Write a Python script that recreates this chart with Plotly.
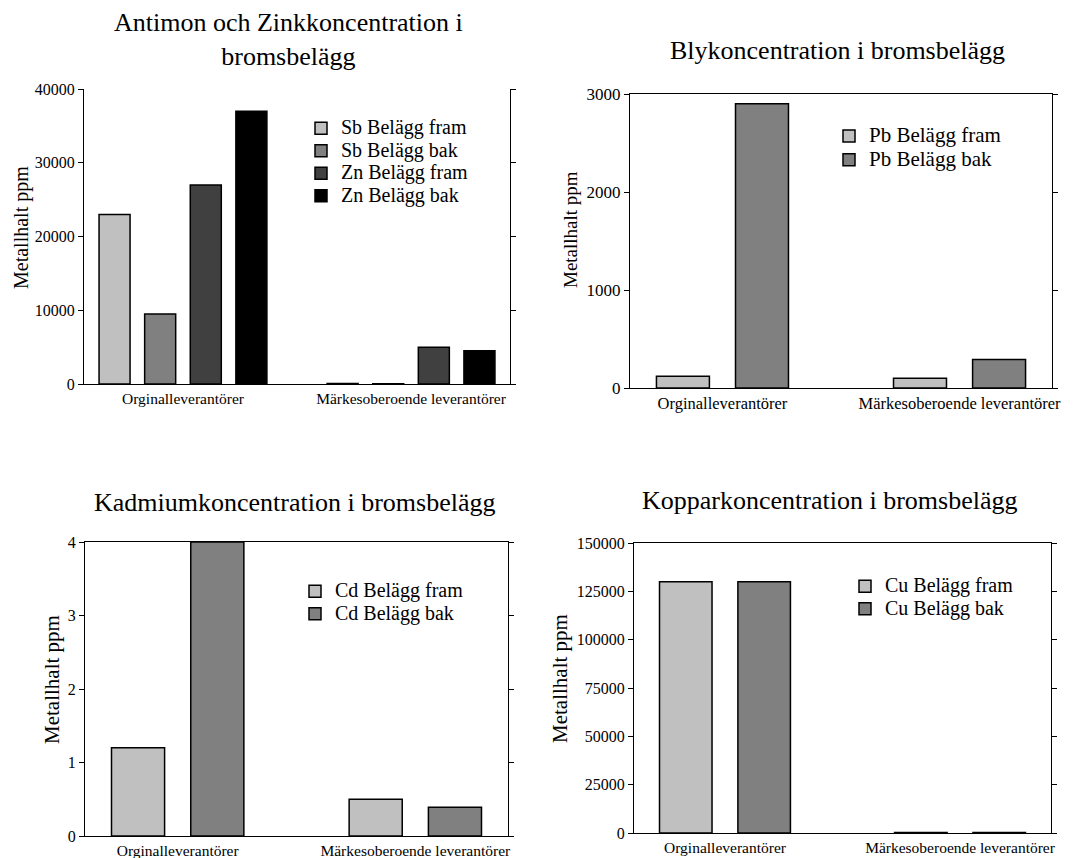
import plotly.graph_objects as go

# ---------------- data ----------------
categories = ["Orginalleverantörer", "Märkesoberoende leverantörer"]

sb_fram = [23000, 60]
sb_bak = [9500, 40]
zn_fram = [27000, 5000]
zn_bak = [37000, 4500]

pb_fram = [120, 100]
pb_bak = [2900, 290]

cd_fram = [1.2, 0.5]
cd_bak = [4.0, 0.39]

cu_fram = [130000, 300]
cu_bak = [130000, 300]

panel_titles = [
    "Antimon och Zinkkoncentration i<br>bromsbelägg",
    "Blykoncentration i bromsbelägg",
    "Kadmiumkoncentration i bromsbelägg",
    "Kopparkoncentration i bromsbelägg",
]
y_title = "Metallhalt ppm"

# ---------------- style ----------------
PAGE_W, PAGE_H = 1085, 858
OFF = 8  # default page margin around the figure
W, H = PAGE_W - OFF, PAGE_H - OFF
FONT = "Liberation Serif, Times New Roman, serif"
C_LIGHT, C_MID, C_DARK, C_BLACK = "#c0c0c0", "#808080", "#404040", "#000000"


def px_x(v):
    return (v - OFF) / W


def px_y(v):
    return 1 - (v - OFF) / H


panels = [
    dict(series=[("Sb Belägg fram", sb_fram, C_LIGHT), ("Sb Belägg bak", sb_bak, C_MID),
                 ("Zn Belägg fram", zn_fram, C_DARK), ("Zn Belägg bak", zn_bak, C_BLACK)],
         px_x=(84, 510), px_y=(89, 384), yrange=(0, 40000), dtick=10000,
         xrange=(-0.434, 1.434), gap=0.2, ggap=0.32, mirror_top=False,
         tickfs=16, xtickfs=15.5,
         title_xy=(288, 39), ytitle_xy=(22, 228), ytitle_fs=20,
         legend_xy=(301, 112), legend_fs=20, legend_lh=15),
    dict(series=[("Pb Belägg fram", pb_fram, C_LIGHT), ("Pb Belägg bak", pb_bak, C_MID)],
         px_x=(630, 1052), px_y=(94, 388), yrange=(0, 3000), dtick=1000,
         xrange=(-0.39, 1.39), gap=0.333, ggap=0.33, mirror_top=True,
         tickfs=17, xtickfs=16.5,
         title_xy=(837, 50), ytitle_xy=(570, 230), ytitle_fs=19,
         legend_xy=(829, 119), legend_fs=21, legend_lh=16),
    dict(series=[("Cd Belägg fram", cd_fram, C_LIGHT), ("Cd Belägg bak", cd_bak, C_MID)],
         px_x=(85, 508), px_y=(542, 836), yrange=(0, 4), dtick=1,
         xrange=(-0.39, 1.39), gap=0.333, ggap=0.33, mirror_top=True,
         tickfs=16, xtickfs=15.5,
         title_xy=(294, 502), ytitle_xy=(52, 680), ytitle_fs=21,
         legend_xy=(295, 575), legend_fs=20, legend_lh=15),
    dict(series=[("Cu Belägg fram", cu_fram, C_LIGHT), ("Cu Belägg bak", cu_bak, C_MID)],
         px_x=(634, 1051), px_y=(543, 833), yrange=(0, 150000), dtick=25000,
         xrange=(-0.387, 1.387), gap=0.333, ggap=0.33, mirror_top=True,
         tickfs=16, xtickfs=15.5,
         title_xy=(829, 500), ytitle_xy=(560, 679), ytitle_fs=21,
         legend_xy=(845, 570), legend_fs=20, legend_lh=15),
]

fig = go.Figure()
layout = dict(
    width=W, height=H, margin=dict(l=0, r=0, t=0, b=0, autoexpand=False),
    paper_bgcolor="white", plot_bgcolor="white",
    font=dict(family=FONT, color="black"),
    showlegend=True, annotations=[],
)

for i, p in enumerate(panels):
    k = "" if i == 0 else str(i + 1)
    xa, ya = "x" + k, "y" + k
    leg = "legend" + k
    n = len(p["series"])
    slot = (1 - p["gap"]) / n
    bw = slot * (1 - p["ggap"])
    for j, (name, vals, col) in enumerate(p["series"]):
        off = -(1 - p["gap"]) / 2 + j * slot + slot * p["ggap"] / 2
        fig.add_trace(go.Bar(
            x=categories, y=vals,
            name=f'<span style="font-size:{p["legend_fs"]}px">{name}</span>',
            xaxis=xa, yaxis=ya,
            marker=dict(color=col, line=dict(color="black", width=1.5)),
            width=bw, offset=off, legend=leg, hoverinfo="skip",
        ))
    x0, x1 = p["px_x"]
    yt, yb = p["px_y"]
    layout["xaxis" + k] = dict(
        domain=[px_x(x0), px_x(x1)], anchor=ya, type="category", automargin=False,
        range=list(p["xrange"]), showline=True, linecolor="black", linewidth=1,
        mirror=p["mirror_top"], ticks="", showgrid=False, zeroline=False,
        tickfont=dict(family=FONT, size=p["xtickfs"], color="black"),
    )
    layout["yaxis" + k] = dict(
        domain=[px_y(yb), px_y(yt)], anchor=xa, range=list(p["yrange"]),
        dtick=p["dtick"], tick0=0, tickformat="d", automargin=False,
        showline=True, linecolor="black", linewidth=1, mirror="ticks",
        ticks="outside", ticklen=5, tickcolor="black", showgrid=False,
        zeroline=False, tickfont=dict(family=FONT, size=p["tickfs"], color="black"),
    )
    lx, ly = p["legend_xy"]
    layout[leg] = dict(
        x=px_x(lx), y=px_y(ly), xanchor="left", yanchor="top",
        bgcolor="rgba(0,0,0,0)", borderwidth=0, tracegroupgap=0,
        font=dict(family=FONT, size=p["legend_lh"], color="black"),
    )
    tx, ty = p["title_xy"]
    layout["annotations"].append(dict(
        text=panel_titles[i], x=px_x(tx), y=px_y(ty), xref="paper", yref="paper",
        xanchor="center", yanchor="middle", showarrow=False,
        font=dict(family=FONT, size=26, color="black"),
    ))
    ax, ay = p["ytitle_xy"]
    layout["annotations"].append(dict(
        text=y_title, x=px_x(ax), y=px_y(ay), xref="paper", yref="paper",
        xanchor="center", yanchor="middle", showarrow=False, textangle=-90,
        font=dict(family=FONT, size=p["ytitle_fs"], color="black"),
    ))

fig.update_layout(**layout)
fig.write_html("out.html")
